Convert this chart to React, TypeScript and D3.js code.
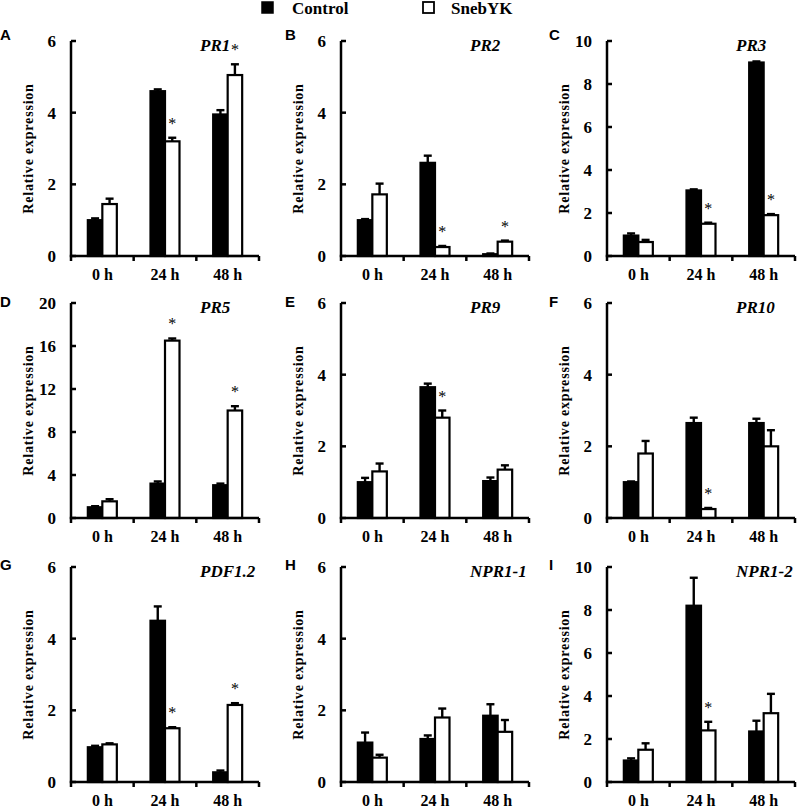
import React, { useEffect } from "react";
import * as d3 from "d3";

// sampling times and gene names
const times = ["0 h", "24 h", "48 h"];
const genes = ["PR1", "PR2", "PR3", "PR5", "PR9", "PR10", "PDF1.2", "NPR1-1", "NPR1-2"];
const letters = ["A", "B", "C", "D", "E", "F", "G", "H", "I"];
const yMax = [6, 6, 10, 20, 6, 6, 6, 6, 10];
const yStep = [2, 2, 2, 4, 2, 2, 2, 2, 2];

// Control series (mean, error)
const control = [
  [1.0, 4.6, 3.95],
  [1.0, 2.6, 0.05],
  [0.95, 3.05, 9.0],
  [1.0, 3.2, 3.05],
  [1.0, 3.65, 1.03],
  [1.0, 2.65, 2.65],
  [0.97, 4.5, 0.27],
  [1.1, 1.2, 1.85],
  [1.0, 8.2, 2.35],
];
const controlErr = [
  [0.05, 0.05, 0.12],
  [0.03, 0.2, 0.02],
  [0.1, 0.05, 0.05],
  [0.1, 0.2, 0.15],
  [0.12, 0.1, 0.1],
  [0.02, 0.15, 0.12],
  [0.04, 0.4, 0.05],
  [0.28, 0.1, 0.32],
  [0.1, 1.3, 0.5],
];

// SnebYK series (mean, error, significance)
const sneb = [
  [1.45, 3.2, 5.05],
  [1.72, 0.25, 0.4],
  [0.65, 1.5, 1.9],
  [1.55, 16.5, 10.0],
  [1.3, 2.8, 1.35],
  [1.8, 0.25, 2.0],
  [1.05, 1.5, 2.15],
  [0.68, 1.8, 1.4],
  [1.5, 2.4, 3.2],
];
const snebErr = [
  [0.15, 0.1, 0.3],
  [0.3, 0.03, 0.03],
  [0.1, 0.05, 0.05],
  [0.2, 0.2, 0.4],
  [0.22, 0.2, 0.12],
  [0.35, 0.03, 0.45],
  [0.03, 0.03, 0.05],
  [0.08, 0.25, 0.33],
  [0.3, 0.4, 0.9],
];
const starred = [
  [false, true, true],
  [false, true, true],
  [false, true, true],
  [false, true, true],
  [false, true, false],
  [false, true, false],
  [false, true, true],
  [false, false, false],
  [false, true, false],
];

const serif = "'Liberation Serif', 'Times New Roman', serif";
const sans = "'Liberation Sans', Arial, sans-serif";

// panel layout
const colX = [71, 341, 607];
const rowY = [41, 303, 567];
const letterX = [0, 285, 549];
const letterY = [40, 307, 570];
const W = 188;
const H = 215;
const barW = 14.5;

function Panel({ i }: { i: number }) {
  const col = i % 3;
  const row = Math.floor(i / 3);
  const x = d3.scaleBand().domain(times).range([0, W]).padding(0);
  const y = d3.scaleLinear().domain([0, yMax[i]]).range([H, 0]);
  const ticks = d3.range(0, yMax[i] + 0.001, yStep[i]);
  const bounds = [0, W / 3, (2 * W) / 3, W];

  return (
    <g>
      <text x={letterX[col]} y={letterY[row]} fontFamily={sans} fontWeight="bold" fontSize={15}>
        {letters[i]}
      </text>
      <g transform={`translate(${colX[col]},${rowY[row]})`}>
        {times.map((t, j) => {
          const c = (x(t) as number) + x.bandwidth() / 2;
          const cv = control[i][j];
          const ce = controlErr[i][j];
          const sv = sneb[i][j];
          const se = snebErr[i][j];
          return (
            <g key={t}>
              <line x1={c - barW / 2} x2={c - barW / 2} y1={y(cv)} y2={y(cv + ce)} stroke="#000" strokeWidth={2.4} />
              <line x1={c - barW / 2 - 4} x2={c - barW / 2 + 4} y1={y(cv + ce)} y2={y(cv + ce)} stroke="#000" strokeWidth={2.4} />
              <line x1={c + barW / 2} x2={c + barW / 2} y1={y(sv)} y2={y(sv + se)} stroke="#000" strokeWidth={2.4} />
              <line x1={c + barW / 2 - 4} x2={c + barW / 2 + 4} y1={y(sv + se)} y2={y(sv + se)} stroke="#000" strokeWidth={2.4} />
              <rect x={c - barW} y={y(cv)} width={barW} height={H - y(cv)} fill="#000" stroke="#000" strokeWidth={2.2} />
              <rect x={c} y={y(sv)} width={barW} height={H - y(sv)} fill="#fff" stroke="#000" strokeWidth={2.2} />
              {starred[i][j] && (
                <text x={c + barW / 2} y={y(sv + se) - 9} textAnchor="middle" fontFamily={serif} fontSize={16} fill="#000">
                  *
                </text>
              )}
              <text x={c} y={H + 24} textAnchor="middle" fontFamily={serif} fontWeight="bold" fontSize={16}>
                {t}
              </text>
            </g>
          );
        })}
        {/* y axis */}
        <line x1={0} x2={0} y1={0} y2={H} stroke="#000" strokeWidth={2.5} />
        {ticks.map((v) => (
          <g key={v}>
            <line x1={0} x2={5} y1={y(v)} y2={y(v)} stroke="#000" strokeWidth={2.5} />
            <text x={-15} y={y(v) + 6} textAnchor="end" fontFamily={serif} fontWeight="bold" fontSize={17}>
              {v}
            </text>
          </g>
        ))}
        {/* x axis */}
        <line x1={-1.25} x2={W} y1={H} y2={H} stroke="#000" strokeWidth={2.5} />
        {bounds.map((b, k) => (
          <line key={k} x1={b} x2={b} y1={H} y2={H + 5} stroke="#000" strokeWidth={2.5} />
        ))}
        <text
          transform={`translate(-38,${H / 2}) rotate(-90)`}
          textAnchor="middle"
          fontFamily={serif}
          fontWeight="bold"
          fontSize={14}
          letterSpacing={0.8}
        >
          Relative expression
        </text>
        <text x={129} y={10} fontFamily={serif} fontWeight="bold" fontStyle="italic" fontSize={17}>
          {genes[i]}
        </text>
      </g>
    </g>
  );
}

export default function App() {
  useEffect(() => {
    document.body.style.margin = "0";
  }, []);

  return (
    <svg width={800} height={808} viewBox="0 0 800 808" style={{ display: "block", background: "#fff" }}>
      <rect x={262} y={2} width={11} height={11} fill="#000" stroke="#000" strokeWidth={1.5} />
      <text x={292} y={14} fontFamily={serif} fontWeight="bold" fontSize={17}>
        Control
      </text>
      <rect x={423} y={2} width={11} height={11} fill="#fff" stroke="#000" strokeWidth={1.8} />
      <text x={451} y={14} fontFamily={serif} fontWeight="bold" fontSize={17}>
        SnebYK
      </text>
      {genes.map((g, i) => (
        <Panel key={g} i={i} />
      ))}
    </svg>
  );
}
